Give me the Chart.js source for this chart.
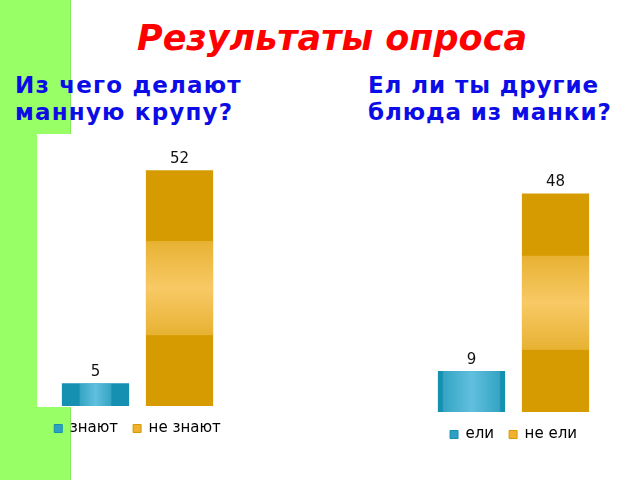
<!DOCTYPE html>
<html>
<head>
<meta charset="utf-8">
<script src="https://cdn.jsdelivr.net/npm/chart.js@4"></script>
<style>
  html, body { margin: 0; padding: 0; background: #fff; }
  #page { position: relative; width: 640px; height: 480px; overflow: hidden; background: #fff; font-family: "DejaVu Sans", sans-serif; }
  #stripe { position: absolute; left: 0; top: 0; width: 70px; height: 480px; background: #99ff66; border-right: 1px solid #86e85a; }
  #plotBg1 { position: absolute; left: 37px; top: 134px; width: 201px; height: 273px; background: #fff; }
  h1 { position: absolute; left: 0; top: 18px; width: 664px; margin: 0; text-align: center; color: #f00; font: italic bold 35px "DejaVu Sans", sans-serif; }
  .q { position: absolute; margin: 0; color: #0c0ce6; font: bold 23px/27px "DejaVu Sans", sans-serif; letter-spacing: 0.9px; white-space: nowrap; }
  #q1 { left: 15px; top: 72px; letter-spacing: 1.2px; }
  #q2 { left: 368px; top: 72px; }
  canvas { position: absolute; }
  #c1 { left: 37px; top: 134px; }
  #c2 { left: 413px; top: 139px; }
</style>
</head>
<body>
<div id="page">
  <div id="stripe"></div>
  <div id="plotBg1"></div>
  <h1>Результаты опроса</h1>
  <p class="q" id="q1">Из чего делают<br>манную крупу?</p>
  <p class="q" id="q2">Ел ли ты другие<br>блюда из манки?</p>
  <canvas id="c1" width="201" height="312"></canvas>
  <canvas id="c2" width="201" height="313"></canvas>
</div>
<script>
// chart 1: "Из чего делают манную крупу?"
const series1Labels = ["знают", "не знают"];
const series1Values = [5, 52];
// chart 2: "Ел ли ты другие блюда из манки?"
const series2Labels = ["ели", "не ели"];
const series2Values = [9, 48];

const barColors = ["#1590b0", "#d69b00"];
const glowColors = ["rgba(110,200,230,", "rgba(252,206,112,"];
const legendColors = ["#2f9fc4", "#f0b030"];

// value labels above bars + the light glossy band in the middle of each bar
const barDecor = {
  id: "barDecor",
  afterDatasetsDraw(chart) {
    const c = chart.ctx;
    chart.data.datasets.forEach((ds, di) => {
      const meta = chart.getDatasetMeta(di);
      meta.data.forEach((bar, i) => {
        const left = bar.x - bar.width / 2, right = bar.x + bar.width / 2;
        const top = bar.y, bottom = bar.base;
        const w = right - left, h = bottom - top;
        const span = Math.min(1.4 * Math.min(w, h), Math.max(w, h));
        const glow = glowColors[di];
        c.save();
        let g;
        if (h > w) {
          const y0 = (top + bottom) / 2 - span / 2;
          g = c.createLinearGradient(0, y0, 0, y0 + span);
          g.addColorStop(0, glow + "0.45)");
          g.addColorStop(0.5, glow + "0.9)");
          g.addColorStop(1, glow + "0.45)");
          c.fillStyle = g;
          c.fillRect(left, y0, w, span);
        } else {
          const x0 = bar.x - span / 2;
          g = c.createLinearGradient(x0, 0, x0 + span, 0);
          g.addColorStop(0, glow + "0.35)");
          g.addColorStop(0.5, glow + "0.85)");
          g.addColorStop(1, glow + "0.35)");
          c.fillStyle = g;
          c.fillRect(x0, top, span, h);
        }
        c.fillStyle = "#111";
        c.font = '15px "DejaVu Sans", sans-serif';
        c.textAlign = "center";
        c.textBaseline = "middle";
        c.fillText(String(ds.data[i]), bar.x, top - 11);
        c.restore();
      });
    });
  }
};

function makeChart(id, labels, values) {
  return new Chart(document.getElementById(id).getContext("2d"), {
    type: "bar",
    data: {
      labels: [""],
      datasets: labels.map((name, i) => ({
        label: name,
        data: [values[i]],
        backgroundColor: barColors[i],
        borderWidth: 0,
        categoryPercentage: 0.836,
        barPercentage: 0.8
      }))
    },
    options: {
      responsive: false,
      animation: false,
      layout: { padding: 0 },
      scales: {
        x: { display: false },
        y: { display: false, min: 0, max: 60 }
      },
      plugins: {
        tooltip: { enabled: false },
        legend: {
          position: "bottom",
          labels: {
            boxWidth: 8,
            boxHeight: 8,
            padding: 15,
            color: "#222",
            font: { family: "DejaVu Sans", size: 15 },
            generateLabels(chart) {
              return chart.data.datasets.map((ds, i) => ({
                text: ds.label,
                fillStyle: legendColors[i],
                strokeStyle: barColors[i],
                lineWidth: 1,
                datasetIndex: i
              }));
            }
          }
        }
      }
    },
    plugins: [barDecor]
  });
}

makeChart("c1", series1Labels, series1Values);
makeChart("c2", series2Labels, series2Values);
</script>
</body>
</html>
